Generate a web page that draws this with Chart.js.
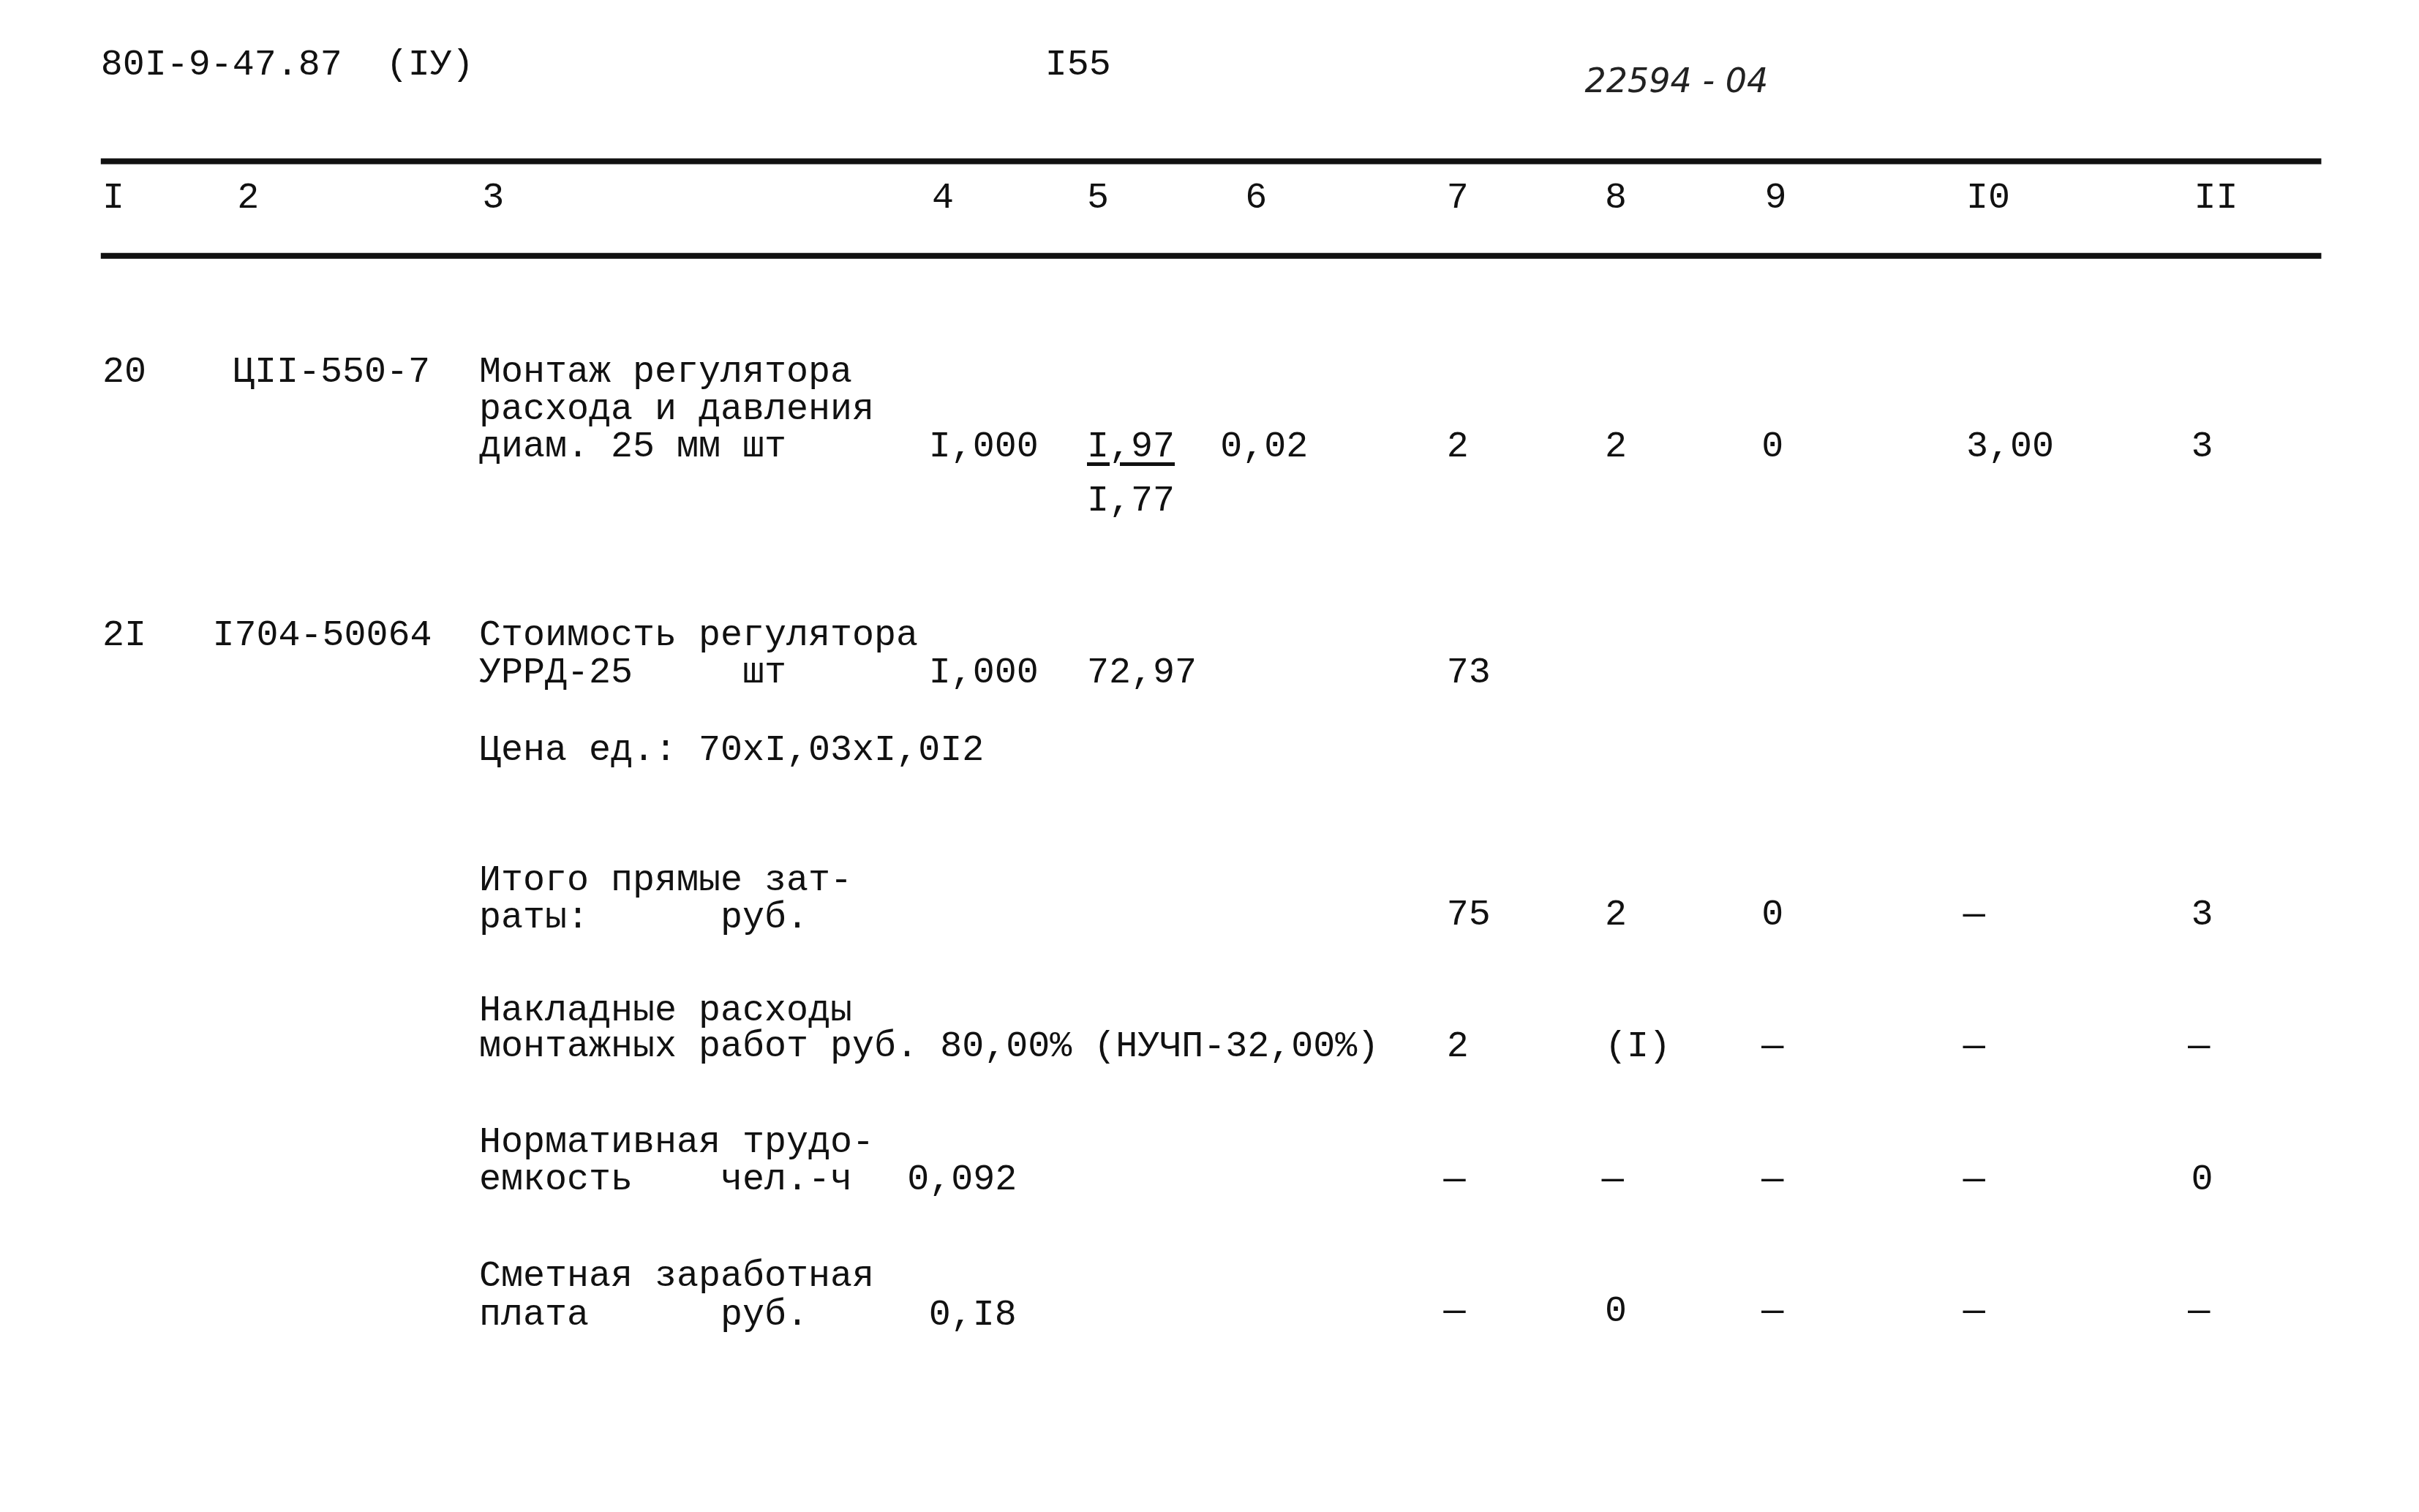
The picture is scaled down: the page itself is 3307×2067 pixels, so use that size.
<!DOCTYPE html>
<html><head><meta charset="utf-8">
<script src="https://cdn.jsdelivr.net/npm/chart.js@4/dist/chart.umd.min.js"></script>
<style>
html,body{margin:0;padding:0;background:#fff;overflow:hidden}
#wrap{position:relative;width:3307px;height:2067px}
canvas{position:absolute;left:0;top:0}
.t{position:absolute;white-space:pre;font-family:"Liberation Mono","DejaVu Sans Mono",monospace;font-size:50px;line-height:50px;color:#111}
.h{font-family:"DejaVu Sans",sans-serif;font-style:italic;font-size:46px;color:#222}
</style></head><body>
<div id="wrap"><canvas id="c" width="3307" height="2067"></canvas></div>
<script>
const S = 3307/1560;
const ruleY = [104, 165];
const ruleX = [65, 1497];
const colLabels = ["I","2","3","4","5","6","7","8","9","I0","II"];
const colX = [66,153,311,601,701,803,933,1035,1138,1268,1415];
const cells = [
 ["80I-9-47.87  (IУ)",65,42],["I55",674,42],
 ["20",66,240],["ЦII-550-7",150,240],["Монтаж регулятора",309,240],
 ["расхода и давления",309,264],["диам. 25 мм шт",309,288],
 ["I,000",599,288],["0,02",787,288],["2",933,288],["2",1035,288],["0",1136,288],["3,00",1268,288],["3",1413,288],
 ["I,77",701,323],
 ["2I",66,410],["I704-50064",137,410],["Стоимость регулятора",309,410],
 ["УРРД-25     шт",309,434],["I,000",599,434],["72,97",701,434],["73",933,434],
 ["Цена ед.: 70хI,03хI,0I2",309,484],
 ["Итого прямые зат-",309,568],["раты:      руб.",309,592],
 ["75",933,590],["2",1035,590],["0",1136,590],["—",1266,590],["3",1413,590],
 ["Накладные расходы",309,652],["монтажных работ руб. 80,00% (НУЧП-32,00%)",309,675],
 ["2",933,675],["(I)",1035,675],["—",1136,675],["—",1266,675],["—",1411,675],
 ["Нормативная трудо-",309,737],["емкость    чел.-ч",309,761],["0,092",585,761],
 ["—",931,761],["—",1033,761],["—",1136,761],["—",1266,761],["0",1413,761],
 ["Сметная заработная",309,823],["плата      руб.",309,848],["0,I8",599,848],
 ["—",931,846],["0",1035,846],["—",1136,846],["—",1266,846],["—",1411,846]
];
const underlined = [["I,97",701,288]];
const hand = [["22594 - 04",1022,52]];

const wrap = document.getElementById('wrap');
function put(txt,x,y,cls,extra){
  const d=document.createElement('div');d.className=cls;d.textContent=txt;
  d.style.left=(x*S)+'px';d.style.top=(y*S-25)+'px';
  if(extra) Object.assign(d.style,extra);
  wrap.appendChild(d);
}
colLabels.forEach((l,i)=>put(l,colX[i],128,'t'));
cells.forEach(c=>put(c[0],c[1],c[2],'t'));
underlined.forEach(c=>put(c[0],c[1],c[2],'t',{textDecoration:'underline',textUnderlineOffset:'8px'}));
hand.forEach(c=>put(c[0],c[1],c[2],'t h'));

new Chart(document.getElementById('c'),{
  type:'line',
  data:{datasets: ruleY.map(y=>({data:[{x:ruleX[0],y},{x:ruleX[1],y}],borderColor:'#111',borderWidth:8,pointRadius:0}))},
  options:{responsive:false,animation:false,devicePixelRatio:1,
    layout:{padding:0},
    plugins:{legend:{display:false},tooltip:{enabled:false}},
    scales:{x:{type:'linear',min:0,max:1560,display:false},
            y:{type:'linear',min:0,max:975,reverse:true,display:false}}}
});
</script></body></html>
